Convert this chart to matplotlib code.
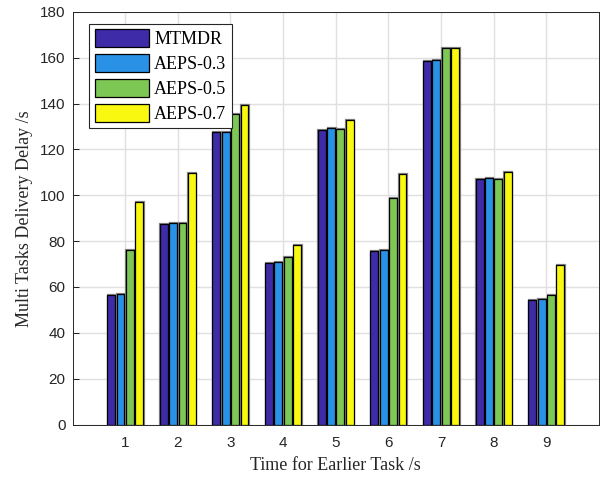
import numpy as np
import matplotlib
matplotlib.use("Agg")
import matplotlib.pyplot as plt

groups = [1, 2, 3, 4, 5, 6, 7, 8, 9]
series_names = ["MTMDR", "AEPS-0.3", "AEPS-0.5", "AEPS-0.7"]
mtmdr = [56.5, 87.5, 127.6, 70.5, 128.5, 75.9, 158.8, 107.1, 54.5]
aeps_03 = [56.8, 87.9, 127.8, 70.8, 129.2, 76.3, 159.2, 107.4, 54.6]
aeps_05 = [76.2, 87.9, 135.4, 73.0, 128.9, 98.9, 164.3, 107.1, 56.3]
aeps_07 = [97.3, 109.8, 139.3, 78.3, 132.7, 109.2, 164.3, 110.3, 69.8]
colors = ["#3D2BA8", "#2A92E6", "#7DC855", "#F8F810"]

fig = plt.figure(figsize=(6.04, 4.79), dpi=100)
ax = fig.add_axes([72.5 / 604, 1 - 424.5 / 479, (599 - 72.5) / 604, (424.5 - 12) / 479])

x = np.array(groups, dtype=float)
pitch = 0.178
width = 0.15
for i, (vals, name) in enumerate(zip([mtmdr, aeps_03, aeps_05, aeps_07], series_names)):
    off = (i - 1.5) * pitch
    # faint grey shadow like the MATLAB export
    ax.bar(x + off + 0.01, vals, width, color="none", edgecolor="#888888",
           linewidth=1.6, zorder=2)
    ax.bar(x + off, vals, width, color=colors[i], edgecolor="black",
           linewidth=0.9, label=name, zorder=3)

ax.set_xlim(0, 10)
ax.set_ylim(0, 180)
ax.set_xticks(groups)
ax.set_yticks(np.arange(0, 181, 20))
ax.tick_params(direction="in", length=4, width=0.6, labelsize=11,
               labelcolor="#262626")
ax.tick_params(axis="x", pad=8)
ax.tick_params(axis="y", pad=5)
for lab in ax.get_xticklabels() + ax.get_yticklabels():
    lab.set_family(["Liberation Sans", "DejaVu Sans"])
ax.grid(True, color="#e0e0e0", linewidth=1.0, zorder=0)
ax.set_axisbelow(True)
for s in ax.spines.values():
    s.set_linewidth(0.7)
    s.set_color("#262626")

serif = ["Liberation Serif", "DejaVu Serif"]
ax.set_xlabel("Time for Earlier Task /s", fontsize=13, family=serif, labelpad=5,
              color="#262626")
ax.set_ylabel("Multi Tasks Delivery Delay /s", fontsize=13, family=serif, labelpad=5,
              color="#262626")

leg = ax.legend(loc="upper left", bbox_to_anchor=(0.025, 0.98), prop={"family": serif, "size": 13},
                fancybox=False, framealpha=1, edgecolor="#262626", handlelength=3.0,
                handleheight=1.15, handletextpad=0.3, labelspacing=0.32, borderpad=0.3,
                borderaxespad=0.2)
leg.get_frame().set_linewidth(0.8)

fig.savefig("out.png", dpi=100)
